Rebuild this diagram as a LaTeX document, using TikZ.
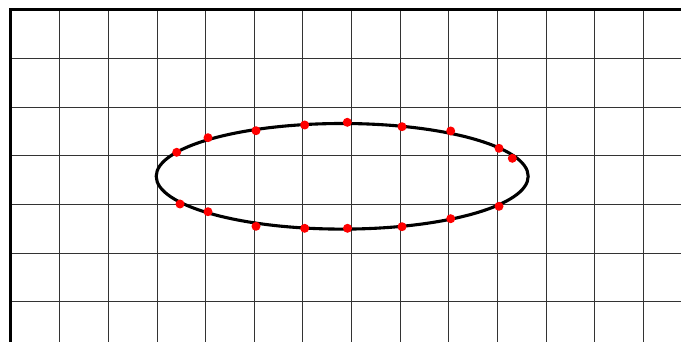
\documentclass[tikz,border=0pt]{standalone}
\tikzset{
  gridline/.style={line width=0.9pt, draw=black!80},
  borderline/.style={line width=3pt, draw=black, line join=miter},
  curveline/.style={line width=3.1pt, draw=black},
  dot/.style={fill=red}
}
\begin{document}
\begin{tikzpicture}[x=1pt,y=-1pt]
\useasboundingbox (0,0) rectangle (681,342);
\fill[white] (0,0) rectangle (681,342);
\begin{scope}
  \clip (11,10) rectangle (681,342);
  \foreach \k in {1,...,13} \draw[gridline] ({11+48.65*\k},10) -- ({11+48.65*\k},342);
  \foreach \k in {1,...,6} \draw[gridline] (11,{10+48.65*\k}) -- (681,{10+48.65*\k});
\end{scope}
\draw[borderline] (10.8,342) -- (10.8,10) -- (681,10);
\draw[curveline] (342.2,176.3) ellipse [x radius=186, y radius=52.8];
\foreach \p in {(176.7,152.3),(208,137.7),(256,130.7),(304.7,125),(347.3,122.3),(402,126.7),(450.7,131),(499,148.3),(512.3,158.3),
                (180,204),(208,211.7),(256,226.3),(304.7,228.3),(347.5,228.3),(402,226.7),(450.7,218.7),(499,206.3)}
  \fill[dot] \p circle (4.5);
\end{tikzpicture}
\end{document}
